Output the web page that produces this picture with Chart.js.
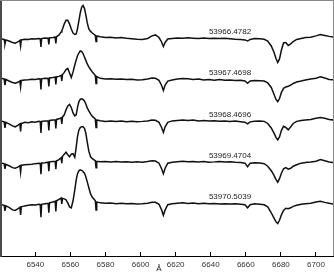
<!DOCTYPE html>
<html>
<head>
<meta charset="utf-8">
<script src="https://cdn.jsdelivr.net/npm/chart.js@4.4.1/dist/chart.umd.min.js"></script>
<style>
  html, body { margin: 0; padding: 0; background: #fff; }
  canvas { display: block; }
</style>
</head>
<body>
<canvas id="spectra" width="334" height="274"></canvas>
<script>
// wavelength grid (Angstrom), shared by all five spectra
const wavelength = [
  6521.0, 6522.2, 6522.7, 6523.2, 6525.0, 6527.0, 6528.5, 6530.0, 6531.2, 6531.6,
  6532.0, 6534.0, 6536.0, 6538.0, 6540.0, 6542.0, 6542.8, 6543.2, 6543.6, 6545.5,
  6547.3, 6547.7, 6548.1, 6550.0, 6551.3, 6551.7, 6552.1, 6553.5, 6554.7, 6555.1,
  6555.5, 6556.5, 6557.5, 6558.5, 6559.5, 6560.5, 6561.5, 6562.5, 6563.3, 6564.0,
  6564.8, 6565.6, 6566.4, 6567.2, 6568.0, 6568.8, 6569.6, 6570.5, 6571.5, 6572.5,
  6573.5, 6574.2, 6574.6, 6575.0, 6577.0, 6580.0, 6583.0, 6586.0, 6589.0, 6592.0,
  6595.0, 6598.0, 6601.0, 6604.0, 6606.5, 6608.5, 6610.5, 6612.0, 6613.0, 6614.0,
  6615.5, 6618.0, 6621.0, 6624.0, 6627.0, 6630.0, 6633.0, 6636.0, 6639.0, 6642.0,
  6645.0, 6648.0, 6651.0, 6654.0, 6657.0, 6659.5, 6661.0, 6662.5, 6665.0, 6668.0,
  6670.5, 6672.5, 6674.5, 6676.0, 6677.2, 6678.2, 6679.2, 6680.3, 6681.5, 6682.8,
  6684.2, 6685.6, 6687.0, 6689.0, 6691.5, 6694.0, 6697.0, 6700.0, 6702.5, 6705.0,
  6707.5, 6710.0
];

// normalised flux of each night
const flux1 = [
  0.997, 0.994, 0.966, 0.991, 0.984, 0.975, 0.970, 0.978, 0.988, 0.953,
  0.991, 0.995, 0.993, 0.998, 0.996, 1.000, 0.998, 0.947, 0.999, 1.003,
  1.001, 0.963, 1.004, 1.006, 1.008, 0.969, 1.011, 1.022, 1.041, 1.050,
  1.059, 1.091, 1.113, 1.113, 1.091, 1.059, 1.034, 1.025, 1.028, 1.059,
  1.109, 1.159, 1.194, 1.206, 1.188, 1.147, 1.097, 1.059, 1.044, 1.034,
  1.025, 1.019, 0.981, 1.016, 1.011, 1.006, 1.008, 1.003, 1.006, 1.001,
  0.998, 0.995, 0.994, 1.000, 1.016, 1.022, 1.006, 0.978, 0.950, 0.975,
  0.997, 1.000, 1.003, 1.001, 1.004, 1.002, 0.999, 1.003, 1.000, 1.002,
  0.999, 1.001, 0.998, 0.995, 0.994, 0.991, 0.984, 0.994, 1.000, 0.998,
  0.995, 0.984, 0.953, 0.916, 0.875, 0.850, 0.872, 0.928, 0.972, 0.975,
  0.956, 0.966, 0.981, 0.994, 1.000, 1.006, 1.008, 1.016, 1.025, 1.019,
  1.013, 1.009
];
const flux2 = [
  1.005, 1.002, 0.964, 0.999, 0.989, 0.980, 0.975, 0.981, 0.989, 0.952,
  0.993, 0.996, 0.997, 1.000, 0.999, 1.003, 1.002, 0.936, 1.003, 1.006,
  1.005, 0.955, 1.008, 1.011, 1.014, 0.968, 1.016, 1.018, 1.024, 0.989,
  1.030, 1.043, 1.061, 1.068, 1.039, 1.011, 1.046, 1.089, 1.121, 1.146,
  1.164, 1.177, 1.174, 1.161, 1.139, 1.118, 1.096, 1.077, 1.061, 1.046,
  1.033, 1.024, 0.974, 1.018, 1.006, 1.002, 1.004, 1.000, 1.002, 0.998,
  1.000, 0.996, 0.997, 1.002, 1.008, 1.006, 0.993, 0.961, 0.930, 0.964,
  0.989, 0.996, 1.002, 1.005, 1.003, 0.999, 1.001, 0.996, 0.998, 0.994,
  0.998, 0.994, 0.996, 0.993, 0.994, 0.989, 0.975, 0.989, 0.993, 0.991,
  0.989, 0.977, 0.949, 0.908, 0.874, 0.860, 0.880, 0.918, 0.943, 0.952,
  0.956, 0.964, 0.974, 0.983, 0.989, 0.996, 1.002, 1.006, 1.016, 1.008,
  0.999, 0.996
];
const flux3 = [
  0.998, 0.994, 0.956, 0.991, 0.981, 0.969, 0.963, 0.972, 0.981, 0.934,
  0.984, 0.991, 0.989, 0.994, 0.992, 0.997, 0.995, 0.925, 0.997, 1.000,
  0.999, 0.941, 1.003, 1.005, 1.006, 0.953, 1.009, 1.013, 1.019, 0.981,
  1.025, 1.038, 1.069, 1.094, 1.103, 1.084, 1.050, 1.031, 1.038, 1.081,
  1.119, 1.134, 1.138, 1.134, 1.125, 1.106, 1.081, 1.063, 1.044, 1.028,
  1.019, 1.011, 0.959, 1.006, 1.001, 0.997, 1.000, 0.996, 0.999, 0.995,
  0.998, 0.995, 0.997, 1.000, 1.006, 1.004, 0.991, 0.959, 0.928, 0.963,
  0.991, 1.000, 1.003, 1.006, 1.003, 1.005, 1.000, 1.003, 0.999, 1.001,
  0.998, 1.000, 0.997, 0.999, 0.995, 0.992, 0.981, 0.994, 0.998, 1.000,
  0.997, 0.984, 0.956, 0.925, 0.897, 0.881, 0.900, 0.941, 0.966, 0.959,
  0.944, 0.963, 0.984, 0.997, 1.003, 1.006, 1.009, 1.016, 1.021, 1.016,
  1.009, 1.006
];
const flux4 = [
  0.991, 0.988, 0.956, 0.984, 0.975, 0.963, 0.959, 0.966, 0.975, 0.934,
  0.978, 0.981, 0.983, 0.984, 0.988, 0.991, 0.989, 0.922, 0.992, 0.994,
  0.997, 0.941, 0.999, 1.002, 1.003, 0.953, 1.006, 1.013, 1.025, 0.991,
  1.034, 1.047, 1.059, 1.044, 1.031, 1.047, 1.050, 1.028, 1.091, 1.153,
  1.197, 1.213, 1.219, 1.219, 1.209, 1.178, 1.122, 1.066, 1.031, 1.019,
  1.011, 1.006, 0.963, 1.003, 1.000, 1.002, 0.998, 1.001, 0.998, 1.000,
  0.997, 0.999, 0.997, 1.001, 1.006, 1.004, 0.991, 0.956, 0.925, 0.959,
  0.991, 0.997, 1.000, 1.003, 1.000, 1.002, 0.998, 1.001, 0.997, 0.999,
  1.002, 0.998, 1.000, 0.997, 0.995, 0.991, 0.969, 0.991, 0.994, 0.992,
  0.988, 0.972, 0.944, 0.916, 0.888, 0.872, 0.894, 0.928, 0.956, 0.963,
  0.953, 0.959, 0.972, 0.981, 0.991, 0.995, 0.998, 1.003, 1.013, 1.006,
  0.998, 0.995
];
const flux5 = [
  0.991, 0.988, 0.953, 0.984, 0.975, 0.959, 0.956, 0.966, 0.975, 0.928,
  0.978, 0.984, 0.988, 0.991, 0.989, 0.994, 0.992, 0.913, 0.994, 0.997,
  1.000, 0.941, 1.003, 1.008, 1.013, 0.950, 1.016, 1.025, 1.033, 0.997,
  1.031, 1.028, 1.022, 1.003, 0.978, 0.972, 1.016, 1.084, 1.147, 1.184,
  1.203, 1.209, 1.206, 1.199, 1.188, 1.166, 1.134, 1.097, 1.059, 1.038,
  1.025, 1.016, 0.959, 1.009, 1.003, 1.000, 1.002, 0.998, 1.001, 0.997,
  0.999, 0.996, 0.998, 1.001, 1.006, 1.006, 0.994, 0.959, 0.925, 0.959,
  0.991, 0.997, 1.000, 1.003, 0.999, 1.002, 0.997, 1.000, 0.997, 0.999,
  0.996, 0.998, 0.996, 0.997, 0.995, 0.991, 0.972, 0.991, 0.997, 0.994,
  0.991, 0.978, 0.941, 0.909, 0.884, 0.874, 0.894, 0.928, 0.956, 0.969,
  0.966, 0.972, 0.981, 0.988, 0.994, 0.997, 1.000, 1.008, 1.013, 1.006,
  1.000, 0.995
];

const epochs = ['53966.4782', '53967.4698', '53968.4696', '53969.4704', '53970.5039'];
const offsets = [0, -0.255, -0.515, -0.77, -1.03];
const tickValues = [6540, 6560, 6580, 6600, 6620, 6640, 6660, 6680, 6700];

const allFlux = [flux1, flux2, flux3, flux4, flux5];

// build one dataset per night, shifted down by its offset
const datasets = allFlux.map((f, i) => ({
  label: epochs[i],
  data: wavelength.map((w, j) => ({ x: w, y: f[j] + offsets[i] })),
  borderColor: '#111',
  borderWidth: 1.5,
  pointRadius: 0,
  tension: 0
}));

// frame round the plot + the epoch labels + the unit under the axis
const framePlugin = {
  id: 'frame',
  afterDraw(chart) {
    const ctx = chart.ctx;
    const a = chart.chartArea;
    const xs = chart.scales.x;
    const ys = chart.scales.y;
    ctx.save();
    ctx.fillStyle = '#4a4a4a';
    ctx.fillRect(0, 0, 2, a.bottom + 1);
    ctx.strokeStyle = '#888';
    ctx.lineWidth = 1;
    ctx.beginPath();
    ctx.moveTo(0, 0.5);
    ctx.lineTo(a.right, 0.5);
    ctx.moveTo(a.right + 0.5, 0);
    ctx.lineTo(a.right + 0.5, a.bottom);
    ctx.stroke();

    ctx.fillStyle = '#222';
    ctx.font = '8px "Liberation Sans", Arial, sans-serif';
    ctx.textAlign = 'center';
    ctx.textBaseline = 'middle';
    epochs.forEach((e, i) => {
      ctx.fillText(e, xs.getPixelForValue(6651), ys.getPixelForValue(1.04 + offsets[i]));
    });

    ctx.fillText('Å', xs.getPixelForValue(6610.5), a.bottom + 13);
    ctx.restore();
  }
};

new Chart(document.getElementById('spectra'), {
  type: 'line',
  data: { datasets: datasets },
  options: {
    responsive: false,
    animation: false,
    devicePixelRatio: 1,
    layout: { padding: { left: 2, right: 1, top: 1, bottom: 0 } },
    plugins: { legend: { display: false }, tooltip: { enabled: false } },
    scales: {
      x: {
        type: 'linear',
        min: 6521,
        max: 6709.7,
        afterBuildTicks: (scale) => { scale.ticks = tickValues.map(v => ({ value: v })); },
        afterFit: (scale) => { scale.height = 18; },
        grid: { drawOnChartArea: false, tickLength: -4, color: '#000' },
        border: { color: '#000', width: 1 },
        ticks: {
          padding: 8,
          maxRotation: 0,
          color: '#333',
          font: { family: '"Liberation Sans", Arial, sans-serif', size: 8 },
          callback: (v) => String(v)
        }
      },
      y: {
        display: false,
        min: -0.359,
        max: 1.234
      }
    }
  },
  plugins: [framePlugin]
});
</script>
</body>
</html>
